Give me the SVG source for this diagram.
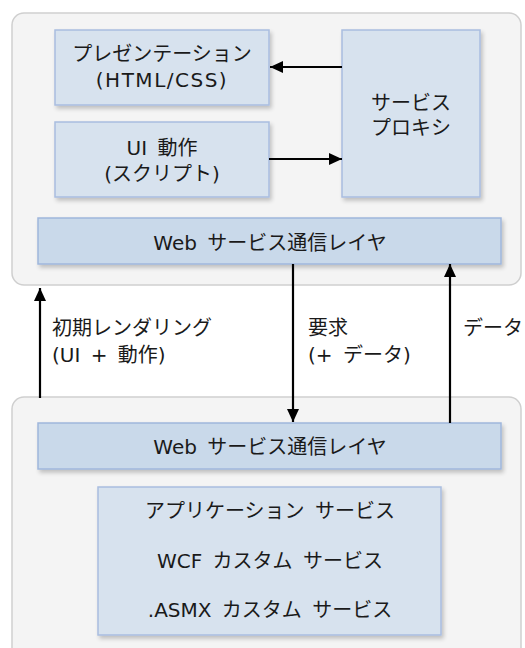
<svg xmlns="http://www.w3.org/2000/svg" width="525" height="648" viewBox="0 0 525 648">
  <defs>
    <filter id="sh" x="-10%" y="-10%" width="130%" height="140%">
      <feGaussianBlur in="SourceAlpha" stdDeviation="2"/>
      <feOffset dx="2" dy="3" result="b"/>
      <feComponentTransfer><feFuncA type="linear" slope="0.22"/></feComponentTransfer>
      <feMerge><feMergeNode/><feMergeNode in="SourceGraphic"/></feMerge>
    </filter>
    <marker id="ah" markerWidth="13" markerHeight="12" refX="13" refY="6" orient="auto" markerUnits="userSpaceOnUse">
      <path d="M0,0 L13,6 L0,12 Z" fill="#000"/>
    </marker>
    <style>
      .cont { fill: #f4f4f4; stroke: #cfcfcf; stroke-width: 1.5; }
      .box { fill: #d7e2ee; stroke: #a9bde0; stroke-width: 1.5; filter: url(#sh); }
      .layer { fill: #c9d9ea; stroke: #9fb6dc; stroke-width: 1.5; filter: url(#sh); }
      text { font-family: "DejaVu Sans", "Noto Sans CJK JP", sans-serif; font-size: 20px; fill: #1a1a1a; word-spacing: 4px; }
      .c { text-anchor: middle; }
      .lat { letter-spacing: 1.5px; }
      .conn { stroke: #000; stroke-width: 2.2; fill: none; marker-end: url(#ah); }
    </style>
  </defs>

  <g id="client">
    <rect class="cont" x="12" y="13" width="509" height="272" rx="12"/>
  </g>
  <g id="server">
    <rect class="cont" x="12" y="397" width="509" height="280" rx="12"/>
  </g>

  <g id="presentation">
    <rect class="box" x="55" y="30" width="214" height="75"/>
    <text class="c" x="162" y="61">プレゼンテーション</text>
    <text class="c lat" x="162" y="87">(HTML/CSS)</text>
  </g>
  <g id="ui">
    <rect class="box" x="55" y="122" width="214" height="75"/>
    <text class="c" x="162" y="155">UI 動作</text>
    <text class="c" x="162" y="181">(スクリプト)</text>
  </g>
  <g id="proxy">
    <rect class="box" x="342" y="30" width="138" height="167"/>
    <text class="c" x="411" y="110">サービス</text>
    <text class="c" x="411" y="135">プロキシ</text>
  </g>
  <g id="client-layer">
    <rect class="layer" x="38" y="218" width="463" height="46"/>
    <text class="c" x="270" y="250">Web サービス通信レイヤ</text>
  </g>
  <g id="server-layer">
    <rect class="layer" x="38" y="423" width="463" height="46"/>
    <text class="c" x="270" y="454">Web サービス通信レイヤ</text>
  </g>
  <g id="services">
    <rect class="box" x="98" y="487" width="343" height="148"/>
    <text class="c" x="270" y="518">アプリケーション サービス</text>
    <text class="c" x="270" y="568">WCF カスタム サービス</text>
    <text class="c" x="270" y="617">.ASMX カスタム サービス</text>
  </g>

  <g id="connectors">
    <line class="conn" x1="342" y1="67" x2="270" y2="67"/>
    <line class="conn" x1="269" y1="159" x2="342" y2="159"/>
    <line class="conn" x1="40" y1="398" x2="40" y2="288"/>
    <line class="conn" x1="293" y1="264" x2="293" y2="422"/>
    <line class="conn" x1="450" y1="423" x2="450" y2="264"/>
  </g>

  <g id="labels">
    <text x="52" y="335">初期レンダリング</text>
    <text x="52" y="362">(UI + 動作)</text>
    <text x="308" y="335">要求</text>
    <text x="308" y="362">(+ データ)</text>
    <text x="463" y="335">データ</text>
  </g>
</svg>
